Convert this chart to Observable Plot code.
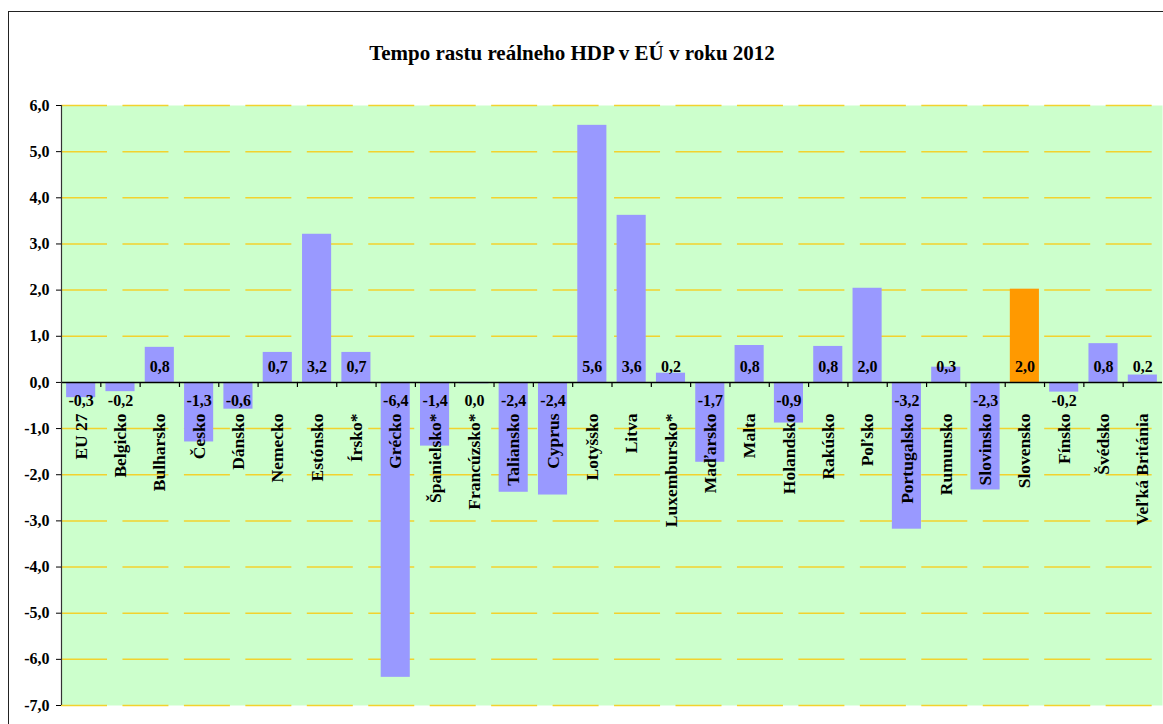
<!DOCTYPE html>
<html>
<head>
<meta charset="utf-8">
<script src="https://cdn.jsdelivr.net/npm/d3@7"></script>
<script src="https://cdn.jsdelivr.net/npm/@observablehq/plot@0.6"></script>
<style>
  html, body { margin: 0; padding: 0; background: #fff; }
  #wrap { position: relative; width: 1163px; height: 724px; overflow: hidden; }
  #border { position: absolute; left: 8px; top: 11px; width: 1200px; height: 800px;
            border-left: 1.5px solid #222; border-top: 1.5px solid #222; box-sizing: border-box; }
  #chart { position: absolute; left: 0; top: 0; }
</style>
</head>
<body>
<div id="wrap"><div id="border"></div><div id="chart"></div></div>
<script>
const title = "Tempo rastu reálneho HDP v EÚ v roku 2012";
const categories = ["EU 27", "Belgicko", "Bulharsko", "Česko", "Dánsko", "Nemecko", "Estónsko", "Írsko*",
  "Grécko", "Španielsko*", "Francúzsko*", "Taliansko", "Cyprus", "Lotyšsko", "Litva", "Luxembursko*",
  "Maďarsko", "Malta", "Holandsko", "Rakúsko", "Poľsko", "Portugalsko", "Rumunsko", "Slovinsko",
  "Slovensko", "Fínsko", "Švédsko", "Veľká Británia"];
const values = [-0.33, -0.2, 0.76, -1.29, -0.58, 0.65, 3.21, 0.65,
  -6.39, -1.38, -0.03, -2.38, -2.44, 5.57, 3.62, 0.2,
  -1.73, 0.8, -0.88, 0.78, 2.04, -3.18, 0.33, -2.33,
  2.02, -0.21, 0.84, 0.16];
const highlight = "Slovensko";
const yTicks = [-7, -6, -5, -4, -3, -2, -1, 0, 1, 2, 3, 4, 5, 6];

const data = categories.map((name, i) => ({name, value: values[i]}));
const locale = d3.formatLocale({decimal: ",", thousands: " ", grouping: [3], currency: ["", " €"], minus: "-"});
const fmt = locale.format(".1f");

const W = 1163, H = 724, mL = 61, mR = 1, mT = 105, mB = 19;
const step = (W - mL - mR) / categories.length;
const serif = "'Liberation Serif', 'Times New Roman', serif";

const chart = Plot.plot({
  width: W, height: H,
  marginLeft: mL, marginRight: mR, marginTop: mT, marginBottom: mB,
  style: {fontFamily: serif, fontWeight: "bold", color: "#000", background: "transparent", overflow: "visible"},
  x: {type: "band", domain: categories, paddingInner: 0.26, paddingOuter: 0.13, round: false, axis: null},
  y: {domain: [-7, 6], axis: null},
  marks: [
    Plot.frame({fill: "#CCFFCC", stroke: null}),
    Plot.ruleY(yTicks.filter(t => t !== 0), {stroke: "#F2D22E", strokeWidth: 1.5, strokeDasharray: "46,15.45"}),
    Plot.barY(data, {x: "name", y: "value", fill: d => d.name === highlight ? "#FF9900" : "#9999FF"}),
    Plot.ruleY([0], {stroke: "#000", strokeWidth: 1.5}),
    Plot.ruleX(categories.slice(1), {x: d => d, dx: -step / 2, y1: 0, y2: -0.11, stroke: "#000", strokeWidth: 1.2}),
    Plot.ruleX(categories.slice(0, 1), {x: d => d, dx: -step / 2, y1: -7, y2: 6, stroke: "#333", strokeWidth: 1.2}),
    Plot.axisY({ticks: yTicks, tickFormat: fmt, label: null, tickSize: 5, tickPadding: 7, fontSize: 16, fontWeight: "bold", stroke: "#000"}),
    Plot.text(data, {filter: d => d.value >= 0, x: "name", y: () => 0, text: d => fmt(d.value), dy: -16, fontSize: 16, fontWeight: "bold", fill: "#000"}),
    Plot.text(data, {filter: d => d.value < 0, x: "name", y: () => 0, text: d => fmt(d.value), dy: 18, fontSize: 16, fontWeight: "bold", fill: "#000"}),
    Plot.text(data, {x: "name", y: () => 0, text: "name", dy: 31, rotate: -90, textAnchor: "end", fontSize: 17.5, fontWeight: "bold", fill: "#000"}),
    Plot.text([title], {frameAnchor: "top", dx: -40, dy: -60, fontSize: 21, fontWeight: "bold", fill: "#000"})
  ]
});
document.getElementById("chart").appendChild(chart);
</script>
</body>
</html>
